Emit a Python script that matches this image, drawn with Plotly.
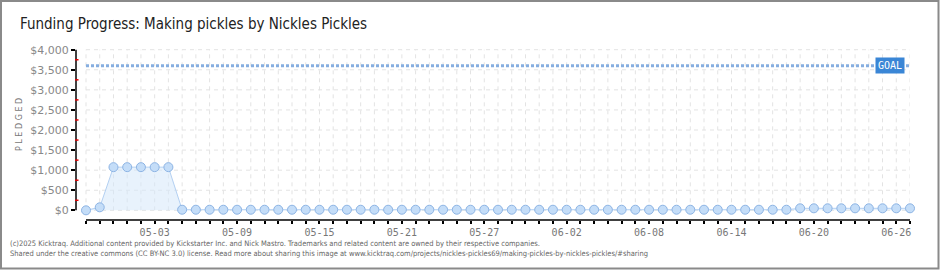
import datetime as dt
import plotly.graph_objects as go

# ---- data ----
start = dt.date(2025, 4, 28)
dates = [(start + dt.timedelta(days=i)).strftime("%m-%d") for i in range(61)]
pledged = ([0, 75] + [1075] * 5 + [15] * 45 + [50] * 9)
goal = 3600
ytick_vals = [0, 500, 1000, 1500, 2000, 2500, 3000, 3500, 4000]
ytick_text = ["$0", "$500", "$1,000", "$1,500", "$2,000", "$2,500", "$3,000", "$3,500", "$4,000"]
minor_vals = [250, 750, 1250, 1750, 2250, 2750, 3250, 3750]
label_every = 6
label_offset = 5
title = "Funding Progress: Making pickles by Nickles Pickles"
footer = ("(c)2025 Kicktraq. Additional content provided by Kickstarter Inc. and Nick Mastro. "
          "Trademarks and related content are owned by their respective companies.<br>"
          "Shared under the creative commons (CC BY-NC 3.0) license. Read more about sharing this image at "
          "www.kicktraq.com/projects/nickles-pickles69/making-pickles-by-nickles-pickles/#sharing")

W, H = 940, 270
ML, MR, MT, MB = 76, 30, 49, 50
PW, PH = W - ML - MR, H - MT - MB

def px(xp):
    return (xp - ML) / PW

def py(yp):
    return (H - MB - yp) / PH

fig = go.Figure()

fig.add_trace(go.Scatter(
    x=dates, y=pledged, mode="lines+markers",
    line=dict(color="#b3d0f2", width=1),
    fill="tozeroy", fillcolor="rgba(214,232,250,0.55)",
    marker=dict(size=9, color="#c4ddf8", line=dict(color="#8db4e4", width=1)),
    cliponaxis=False, hoverinfo="x+y", showlegend=False,
))

shapes = []
grid = dict(color="#e3e3e3", width=1, dash="4px,4px")
for d in dates:
    shapes.append(dict(type="line", xref="x", yref="y", x0=d, x1=d, y0=0, y1=ytick_vals[-1],
                       line=grid, layer="below"))
for v in ytick_vals:
    shapes.append(dict(type="line", xref="x", yref="y", x0=dates[0], x1=dates[-1], y0=v, y1=v,
                       line=grid, layer="below"))
shapes.append(dict(type="line", xref="x", yref="y", x0=dates[0], x1=dates[-1], y0=goal, y1=goal,
                   line=dict(color="#86aee0", width=3, dash="3px,2px"), layer="above"))
shapes.append(dict(type="line", xref="x", yref="paper", x0=dates[0], x1=dates[-1], y0=0, y1=0,
                   line=dict(color="#000", width=1.5)))
shapes.append(dict(type="line", xref="paper", yref="y", x0=0, x1=0, y0=0, y1=ytick_vals[-1],
                   line=dict(color="#000", width=1.5)))
# red minor ticks
for v in minor_vals:
    shapes.append(dict(type="line", xref="paper", yref="y", x0=px(75), x1=px(78.5), y0=v, y1=v,
                       line=dict(color="#e00000", width=1.5)))
shapes.append(dict(type="rect", xref="paper", yref="paper", x0=px(1), x1=px(938.5), y0=py(268.5), y1=py(1),
                   line=dict(color="#8a8a8a", width=2)))

annotations = [
    dict(x=len(dates) - 1, y=goal, xref="x", yref="y", text="GOAL", showarrow=False,
         xanchor="right", yanchor="middle", xshift=-5,
         font=dict(family="DejaVu Sans Mono, monospace", size=10, color="white"),
         bgcolor="#3a86d6", borderpad=2),
    dict(x=px(19), y=py(124), xref="paper", yref="paper", text="P L E D G E D", textangle=-90,
         showarrow=False, font=dict(family="DejaVu Sans, sans-serif", size=8, color="#777"),
         xanchor="center", yanchor="middle"),
    dict(x=px(8), y=py(237), xref="paper", yref="paper", text=footer, showarrow=False,
         xanchor="left", yanchor="top", align="left",
         font=dict(family="DejaVu Sans Condensed, sans-serif", size=7.5, color="#666")),
]

ticktext = [d if i % label_every == label_offset else "" for i, d in enumerate(dates)]

fig.update_layout(
    width=W, height=H,
    margin=dict(l=ML, r=MR, t=MT, b=MB, pad=0),
    paper_bgcolor="white", plot_bgcolor="white",
    title=dict(text=title, x=20 / W, xanchor="left", xref="container",
               y=1 - 24 / H, yanchor="middle", yref="container",
               font=dict(family="DejaVu Sans Condensed, sans-serif", size=15, color="#222")),
    shapes=shapes, annotations=annotations,
    xaxis=dict(type="category", range=[-(86 - ML) / ((910 - 86) / (len(dates) - 1)), len(dates) - 1],
               tickmode="array", tickvals=dates, ticktext=ticktext,
               showgrid=False, zeroline=False, showline=False,
               ticks="outside", ticklen=3, tickwidth=1.5, tickcolor="#000",
               tickfont=dict(family="DejaVu Sans Mono, monospace", size=10, color="#777")),
    yaxis=dict(range=[-(220 - 210.3) / 161 * 4000, 4000 + 0.7 / 161 * 4000],
               tickmode="array", tickvals=ytick_vals, ticktext=ytick_text,
               showgrid=False, zeroline=False, showline=False,
               ticks="outside", ticklen=4, tickwidth=1.5, tickcolor="#000",
               tickfont=dict(family="DejaVu Sans, sans-serif", size=11, color="#888")),
)

fig.write_html("out.html")
